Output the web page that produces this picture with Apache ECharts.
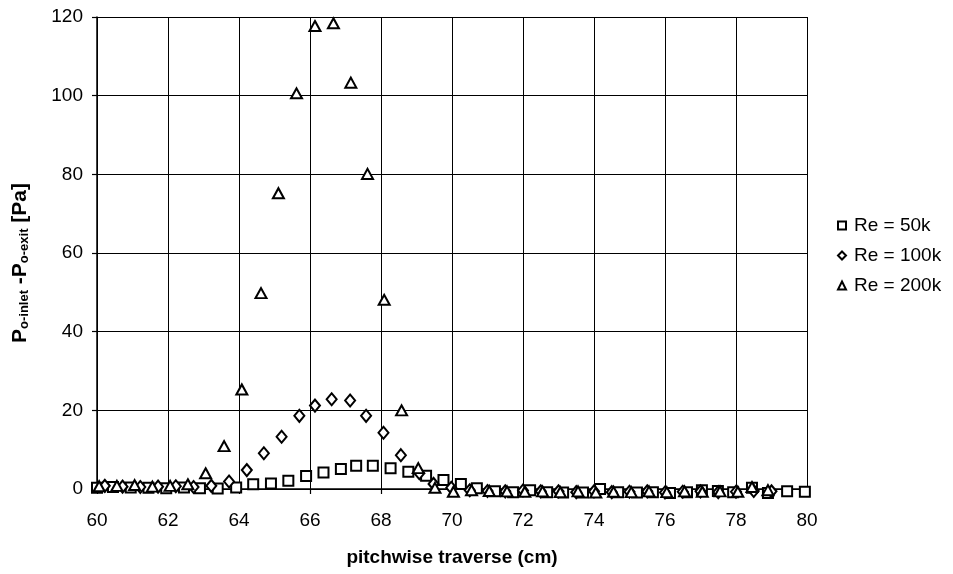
<!DOCTYPE html>
<html>
<head>
<meta charset="utf-8">
<script src="https://cdn.jsdelivr.net/npm/echarts@6/dist/echarts.min.js"></script>
<style>
html,body{margin:0;padding:0;background:#fff;}
#chart{width:953px;height:574px;}
</style>
</head>
<body>
<div id="chart"></div>
<script>
// ---- data ----
const xTicks = [60, 62, 64, 66, 68, 70, 72, 74, 76, 78, 80];
const yTicks = [0, 20, 40, 60, 80, 100, 120];
const seriesNames = ['Re = 50k', 'Re = 100k', 'Re = 200k'];

const re50x = [60.0,60.45,60.95,61.45,61.95,62.45,62.9,63.4,63.92,64.40,64.90,65.39,65.89,66.38,66.87,67.30,67.77,68.27,68.77,69.27,69.76,70.25,70.70,71.21,71.72,72.20,72.68,73.13,73.69,74.17,74.68,75.21,75.66,76.14,76.62,77.04,77.49,77.92,78.45,78.90,79.44,79.94];
const re50y = [0.3,0.5,0.4,0.3,0.2,0.4,0.2,0.1,0.4,1.2,1.4,2.1,3.3,4.2,5.1,5.9,5.9,5.3,4.4,3.4,2.3,1.3,0.2,-0.6,-0.8,-0.3,-0.8,-0.9,-0.9,0.0,-0.8,-0.9,-0.8,-1.0,-0.8,-0.3,-0.5,-0.8,0.3,-1.0,-0.6,-0.7];

const re100x = [60.22,60.72,61.22,61.72,62.22,62.72,63.22,63.72,64.22,64.70,65.20,65.70,66.14,66.61,67.13,67.58,68.07,68.56,69.08,69.48,69.98,70.5,71.0,71.5,72.0,72.5,73.0,73.5,74.0,74.5,75.0,75.5,76.0,76.5,77.0,77.5,78.0,78.5,79.0];
const re100y = [0.8,0.6,0.5,0.6,0.7,0.5,0.8,1.9,4.8,9.1,13.3,18.6,21.2,22.8,22.5,18.6,14.3,8.6,4.0,1.3,0.3,-0.3,-0.5,-0.6,-0.4,-0.6,-0.6,-0.8,-0.6,-0.8,-0.7,-0.6,-0.9,-0.7,-0.6,-0.8,-0.7,-0.5,-0.6];

const re200x = [60.06,60.56,61.06,61.56,62.06,62.56,63.06,63.58,64.08,64.62,65.11,65.62,66.14,66.66,67.15,67.62,68.09,68.58,69.05,69.52,70.04,70.55,71.05,71.55,72.05,72.55,73.05,73.55,74.05,74.55,75.05,75.55,76.05,76.55,77.05,77.55,78.05,78.45,78.9];
const re200y = [0.7,0.8,1.0,0.6,0.8,1.2,4.0,10.9,25.3,49.8,75.2,100.6,117.7,118.4,103.3,80.1,48.1,20.0,5.3,0.3,-0.7,-0.3,-0.5,-0.6,-0.7,-0.6,-0.8,-0.6,-0.9,-0.7,-0.8,-0.6,-0.8,-0.6,-0.7,-0.6,-0.7,0.5,-0.3];

const FONT = '"Liberation Sans", Arial, sans-serif';
const zip = (xs, ys) => xs.map((x, i) => [x, ys[i]]);

const mk = (name, xs, ys, symbol, size) => ({
  name: name,
  type: 'scatter',
  data: zip(xs, ys),
  symbol: symbol,
  symbolSize: size,
  clip: false,
  itemStyle: { color: '#ffffff', borderColor: '#000000', borderWidth: 2, opacity: 1 },
  emphasis: { disabled: true }
});

const chart = echarts.init(document.getElementById('chart'), null, { renderer: 'canvas' });
chart.setOption({
  animation: false,
  backgroundColor: '#ffffff',
  grid: { left: 97, right: 146, top: 17, bottom: 85, containLabel: false },
  legend: {
    orient: 'vertical',
    left: 832,
    top: 211,
    itemWidth: 8,
    itemHeight: 8,
    itemGap: 11,
    data: seriesNames,
    textStyle: { fontFamily: FONT, fontSize: 19, color: '#000', padding: [0, 0, 0, 3] }
  },
  xAxis: {
    type: 'value',
    min: xTicks[0],
    max: xTicks[xTicks.length - 1],
    interval: 2,
    name: 'pitchwise traverse (cm)',
    nameLocation: 'middle',
    nameGap: 59,
    nameTextStyle: { fontFamily: FONT, fontSize: 19, fontWeight: 'bold', color: '#000' },
    axisLine: { onZero: false, lineStyle: { color: '#000', width: 1.5 } },
    axisTick: { show: true, length: 5, lineStyle: { color: '#000', width: 1.2 } },
    axisLabel: { fontFamily: FONT, fontSize: 19, color: '#000', margin: 22 },
    splitLine: { show: true, lineStyle: { color: '#000', width: 1 } }
  },
  yAxis: {
    type: 'value',
    min: yTicks[0],
    max: yTicks[yTicks.length - 1],
    interval: 20,
    name: '{b|P}{s|o-inlet}{b| -P}{s|o-exit}{b| [Pa]}',
    nameLocation: 'middle',
    nameRotate: 90,
    nameGap: 66,
    nameTextStyle: {
      fontFamily: FONT, color: '#000',
      padding: [0, 20, 0, 0],
      rich: {
        b: { fontFamily: FONT, fontSize: 21, fontWeight: 'bold', color: '#000', lineHeight: 24, verticalAlign: 'bottom' },
        s: { fontFamily: FONT, fontSize: 13, fontWeight: 'bold', color: '#000', lineHeight: 18, verticalAlign: 'bottom' }
      }
    },
    axisLine: { show: true, lineStyle: { color: '#000', width: 1.5 } },
    axisTick: { show: true, length: 5, lineStyle: { color: '#000', width: 1.2 } },
    axisLabel: { fontFamily: FONT, fontSize: 19, color: '#000', margin: 14 },
    splitLine: { show: true, lineStyle: { color: '#000', width: 1 } }
  },
  series: [
    mk(seriesNames[0], re50x, re50y, 'rect', 10),
    mk(seriesNames[1], re100x, re100y, 'diamond', [10, 12]),
    mk(seriesNames[2], re200x, re200y, 'triangle', [11, 10])
  ]
});
</script>
</body>
</html>
